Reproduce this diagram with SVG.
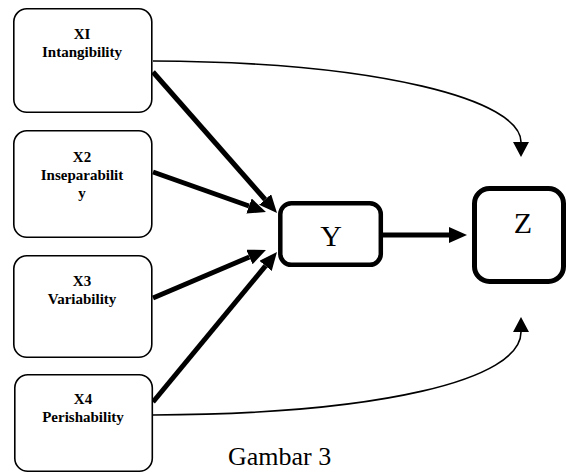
<svg xmlns="http://www.w3.org/2000/svg" width="566" height="473" viewBox="0 0 566 473">
<style>
.src{fill:#fff;stroke:#000;stroke-width:1.6}
.lbl{font-family:"Liberation Serif","Times New Roman",serif;font-weight:bold;font-size:15px;text-anchor:middle;fill:#000}
.big{font-family:"Liberation Serif","Times New Roman",serif;font-size:30px;text-anchor:middle;fill:#000}
.thick{stroke:#000;stroke-width:5;fill:none}
.thin{stroke:#000;stroke-width:1.6;fill:none}
</style>
<defs>
<marker id="ah" markerUnits="userSpaceOnUse" markerWidth="19" markerHeight="17" refX="0" refY="8" orient="auto">
<path d="M0,0 L18,8 L0,16 z" fill="#000"/>
</marker>
<marker id="ahs" markerUnits="userSpaceOnUse" markerWidth="16" markerHeight="17" refX="0" refY="8" orient="auto">
<path d="M0,0 L15,8 L0,16 z" fill="#000"/>
</marker>
</defs>
<g id="connectors">
<line class="thick" x1="153" y1="72" x2="265.1" y2="199.5" marker-end="url(#ah)"/>
<line class="thick" x1="153" y1="172" x2="249" y2="206" marker-end="url(#ah)"/>
<line class="thick" x1="153" y1="298" x2="249.4" y2="257" marker-end="url(#ah)"/>
<line class="thick" x1="153" y1="402" x2="265.5" y2="265.9" marker-end="url(#ah)"/>
<line class="thick" x1="383" y1="235" x2="449" y2="235" marker-end="url(#ah)"/>
<path class="thin" d="M153,61 C380,62 521,100 521,142" marker-end="url(#ahs)"/>
<path class="thin" d="M153,415 C380,414 521,380 521,332" marker-end="url(#ahs)"/>
</g>
<g id="x1">
<rect class="src" x="13.8" y="8.8" width="138" height="103.5" rx="13"/>
<text class="lbl" x="82" y="39">XI</text>
<text class="lbl" x="82" y="57">Intangibility</text>
</g>
<g id="x2">
<rect class="src" x="13.8" y="130.8" width="138" height="106.5" rx="13"/>
<text class="lbl" x="82" y="162">X2</text>
<text class="lbl" x="82" y="180">Inseparabilit</text>
<text class="lbl" x="82" y="198">y</text>
</g>
<g id="x3">
<rect class="src" x="13.8" y="255.8" width="138" height="101.5" rx="13"/>
<text class="lbl" x="82" y="286">X3</text>
<text class="lbl" x="82" y="304">Variability</text>
</g>
<g id="x4">
<rect class="src" x="14.8" y="374.8" width="137.5" height="96.5" rx="13"/>
<text class="lbl" x="83" y="404">X4</text>
<text class="lbl" x="83" y="422">Perishability</text>
</g>
<g id="y">
<rect x="280.3" y="203.3" width="100.5" height="61.5" rx="11" fill="#fff" stroke="#000" stroke-width="4.5"/>
<text class="big" x="331" y="246">Y</text>
</g>
<g id="z">
<rect x="474.5" y="188.5" width="89" height="93" rx="15" fill="#fff" stroke="#000" stroke-width="5"/>
<text class="big" x="523" y="233">Z</text>
</g>
<text id="caption" x="228" y="465" font-family="Liberation Serif,'Times New Roman',serif" font-size="26" fill="#000">Gambar 3</text>
</svg>
